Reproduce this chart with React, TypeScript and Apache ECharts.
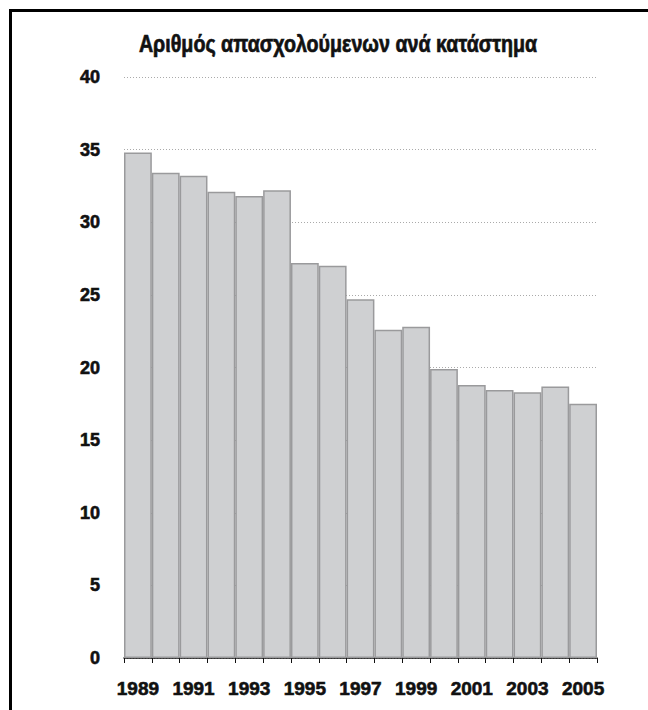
import React, { useEffect, useRef } from "react";
import * as echarts from "echarts";

const title = "Αριθμός απασχολούμενων ανά κατάστημα";
const years = ["1989","1990","1991","1992","1993","1994","1995","1996","1997","1998","1999","2000","2001","2002","2003","2004","2005"];
const employees = [34.8, 33.4, 33.2, 32.1, 31.8, 32.2, 27.2, 27.0, 24.7, 22.6, 22.8, 19.9, 18.8, 18.45, 18.3, 18.7, 17.5];

const FONT = '"Liberation Sans", Arial, sans-serif';

export default function App() {
  const ref = useRef<HTMLDivElement>(null);
  useEffect(() => {
    const chart = echarts.init(ref.current!, null, { renderer: "svg" });
    chart.setOption({
      animation: false,
      backgroundColor: "#ffffff",
      grid: { left: 124, right: 51, top: 77, bottom: 52, containLabel: false },
      graphic: [
        {
          type: "rect",
          shape: { x: 10.5, y: 10.5, width: 800, height: 900 },
          style: { fill: "none", stroke: "#000", lineWidth: 3 },
          z: 100,
        },
        {
          type: "text",
          x: 338,
          y: 44,
          scaleX: 0.82,
          style: {
            text: title,
            fill: "#111",
            stroke: "#111",
            lineWidth: 0.7,
            font: `bold 24px ${FONT}`,
            textAlign: "center",
            textVerticalAlign: "middle",
          },
        },
      ],
      xAxis: {
        type: "category",
        data: years,
        boundaryGap: true,
        axisLine: { lineStyle: { color: "#111", width: 1.5 } },
        axisTick: { show: true, interval: 0, length: 5, lineStyle: { color: "#111", width: 1 } },
        axisLabel: {
          interval: 1,
          margin: 21,
          color: "#111",
          fontFamily: FONT,
          fontWeight: "bold",
          fontSize: 19,
          textBorderColor: "#111",
          textBorderWidth: 0.6,
        },
      },
      yAxis: {
        type: "value",
        min: 0,
        max: 40,
        interval: 5,
        axisLine: { show: false },
        axisTick: { show: false },
        axisLabel: {
          margin: 24,
          color: "#111",
          fontFamily: FONT,
          fontWeight: "bold",
          fontSize: 18,
          textBorderColor: "#111",
          textBorderWidth: 0.6,
        },
        splitLine: { lineStyle: { color: "#aaaaaa", type: [1, 2], width: 1 } },
      },
      series: [
        {
          type: "bar",
          data: employees,
          barCategoryGap: 0,
          itemStyle: { color: "#cfd0d2", borderColor: "#9a9a9c", borderWidth: 1.5 },
        },
      ],
    });
    return () => chart.dispose();
  }, []);
  return (
    <div
      ref={ref}
      style={{ position: "absolute", left: 0, top: 0, width: 648, height: 710 }}
    />
  );
}
